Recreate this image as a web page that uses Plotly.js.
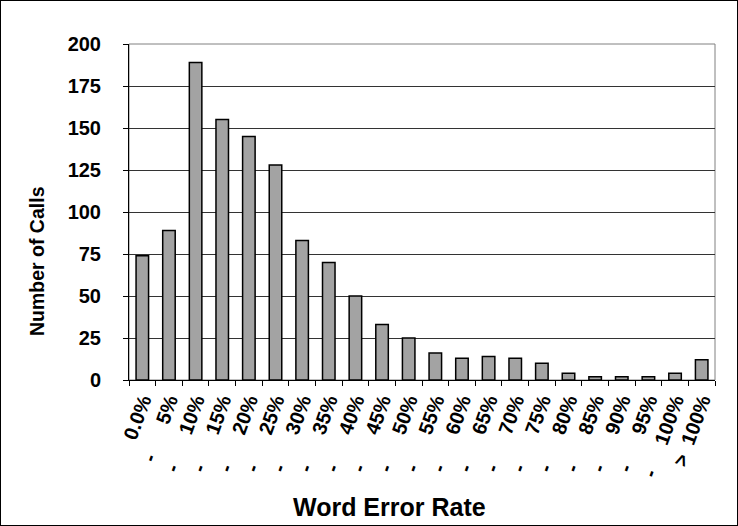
<!DOCTYPE html>
<html>
<head>
<meta charset="utf-8">
<script src="https://cdn.plot.ly/plotly-3.0.1.min.js"></script>
<style>
  html, body { margin: 0; padding: 0; background: #fff; }
  #wrap { width: 738px; height: 526px; box-sizing: border-box; border: 1px solid #000; position: relative; }
  #chart { width: 736px; height: 524px; }
</style>
</head>
<body>
<div id="wrap"><div id="chart"></div></div>
<script>
// Category labels (as shown under the bars)
const categories = ["0.0%", "- 5%", "- 10%", "- 15%", "- 20%", "- 25%", "- 30%", "- 35%", "- 40%",
  "- 45%", "- 50%", "- 55%", "- 60%", "- 65%", "- 70%", "- 75%", "- 80%", "- 85%", "- 90%",
  "- 95%", "- 100%", "> 100%"];
// Number of calls per word-error-rate bin
const calls = [74, 89, 189, 155, 145, 128, 83, 70, 50, 33, 25, 16, 13, 14, 13, 10, 4, 2, 2, 2, 4, 12];
const yTicks = [0, 25, 50, 75, 100, 125, 150, 175, 200];

const NB = "\u00a0";
function padLabel(s) {
  // the leading symbol sits apart from the number in the original labels
  if (s[0] === "-") return "-" + NB.repeat(s.length > 5 ? 5 : 6) + s.slice(2);
  if (s[0] === ">") return ">" + NB.repeat(2) + s.slice(2);
  return s;
}
const tickText = categories.map(padLabel);

const base = { family: "Liberation Sans, Arial, sans-serif", color: "#000", weight: 700 };
const tickFont = Object.assign({}, base, { size: 20 });
const yTitleFont = Object.assign({}, base, { size: 19.5 });
const xTitleFont = Object.assign({}, base, { size: 25 });

const trace = {
  type: "bar",
  x: categories,
  y: calls,
  marker: { color: "#a3a3a3", line: { color: "#000", width: 1.5 } },
  hoverinfo: "x+y"
};

const layout = {
  width: 736, height: 524,
  margin: { l: 128, r: 22, t: 43, b: 145 },
  paper_bgcolor: "#fff", plot_bgcolor: "#fff",
  bargap: 0.53,
  showlegend: false,
  font: tickFont,
  xaxis: {
    type: "category",
    tickmode: "array", tickvals: categories, ticktext: tickText,
    tickangle: -70,
    ticks: "outside", ticklen: 5, tickwidth: 1, tickcolor: "#000",
    tickson: "boundaries",
    showline: true, linecolor: "#000", linewidth: 1,
    showgrid: false, zeroline: false,
    tickfont: tickFont
  },
  yaxis: {
    range: [0, 200],
    tickmode: "array", tickvals: yTicks,
    ticks: "outside", ticklen: 5, tickwidth: 1, tickcolor: "#000",
    ticklabelstandoff: 18,
    showline: true, linecolor: "#000", linewidth: 1,
    showgrid: true, gridcolor: "#333", gridwidth: 1,
    zeroline: false,
    tickfont: tickFont
  },
  shapes: [{
    type: "rect", xref: "paper", yref: "paper", x0: 0, x1: 1, y0: 0, y1: 1,
    line: { color: "#808080", width: 1 }, layer: "below"
  }],
  annotations: [
    { text: "Number of Calls", xref: "paper", yref: "paper", x: -0.157, y: 0.354,
      textangle: -90, showarrow: false, font: yTitleFont, xanchor: "center", yanchor: "middle" },
    { text: "Word Error Rate", xref: "paper", yref: "paper", x: 0.445, y: -0.378,
      showarrow: false, font: xTitleFont, xanchor: "center", yanchor: "middle" }
  ]
};

Plotly.newPlot("chart", [trace], layout, { displayModeBar: false, staticPlot: true });
</script>
</body>
</html>
